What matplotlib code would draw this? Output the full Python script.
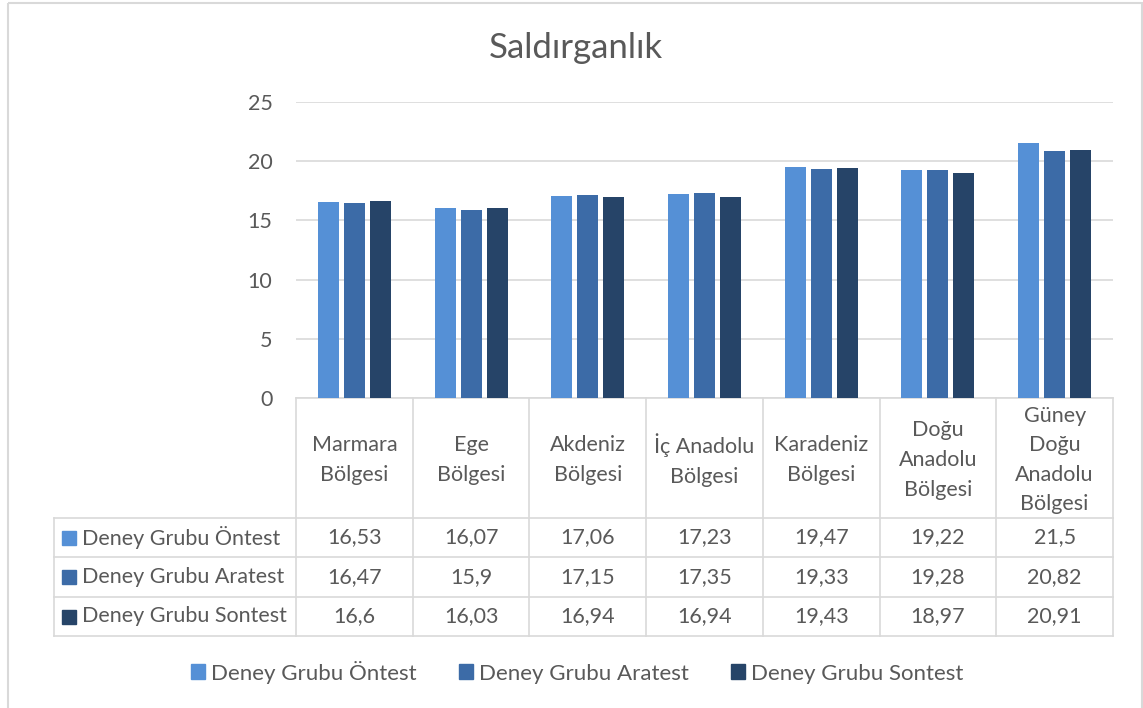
import matplotlib.pyplot as plt
import numpy as np

plt.rcParams['font.family'] = ['Lato', 'DejaVu Sans']

regions = ["Marmara\nBölgesi", "Ege\nBölgesi", "Akdeniz\nBölgesi", "İç Anadolu\nBölgesi",
           "Karadeniz\nBölgesi", "Doğu\nAnadolu\nBölgesi", "Güney\nDoğu\nAnadolu\nBölgesi"]
series_names = ["Deney Grubu Öntest", "Deney Grubu Aratest", "Deney Grubu Sontest"]
ontest = [16.53, 16.07, 17.06, 17.23, 19.47, 19.22, 21.5]
aratest = [16.47, 15.9, 17.15, 17.35, 19.33, 19.28, 20.82]
sontest = [16.6, 16.03, 16.94, 16.94, 19.43, 18.97, 20.91]
series = [ontest, aratest, sontest]
colors = ["#5590d6", "#3c6ba7", "#264468"]
title = "Saldırganlık"

TEXT = "#595959"
GRID = "#d9d9d9"


def fmt(v):
    return f"{v:g}".replace(".", ",")


W, H = 1143, 708
fig = plt.figure(figsize=(W / 100, H / 100), dpi=100)

# plot area in pixels
PL, PR, PT, PB = 296, 1113, 102, 398
ax = fig.add_axes([PL / W, 1 - PB / H, (PR - PL) / W, (PB - PT) / H])
x = np.arange(len(regions))
for i, (vals, c) in enumerate(zip(series, colors)):
    ax.bar(x + (i - 1) * 0.223, vals, 0.18, color=c, zorder=3)
ax.set_xlim(-0.5, len(regions) - 0.5)
ax.set_ylim(0, 25)
ax.set_yticks(range(0, 26, 5))
ax.set_xticks([])
ax.grid(axis='y', color=GRID, lw=1.2, zorder=0)
for s in ['top', 'right', 'left']:
    ax.spines[s].set_visible(False)
ax.spines['bottom'].set_color(GRID)
ax.spines['bottom'].set_linewidth(1.2)
ax.tick_params(axis='y', length=0, pad=17, labelsize=15.5, labelcolor=TEXT)

# overlay in pixel coordinates for the title, data table and legend
ov = fig.add_axes([0, 0, 1, 1], zorder=5)
ov.set_xlim(0, W)
ov.set_ylim(H, 0)
ov.axis('off')
ov.patch.set_alpha(0)

ov.add_patch(plt.Rectangle((8, 3), 1134, 710, fill=False, ec=GRID, lw=1.5, clip_on=False))
ov.text(W / 2 + 4, 48, title, ha='center', va='center', fontsize=25, color=TEXT)

col_edges = np.linspace(PL, PR, len(regions) + 1)
row_edges = [PB, 518, 557, 597, 636]
TL = 54
lk = dict(color=GRID, lw=1.2)
for xe in col_edges:
    ov.plot([xe, xe], [PB, row_edges[-1]], **lk)
ov.plot([TL, TL], [row_edges[1], row_edges[-1]], **lk)
for ye in row_edges[1:]:
    ov.plot([TL, PR], [ye, ye], **lk)

centers = (col_edges[:-1] + col_edges[1:]) / 2
for cx, lab in zip(centers, regions):
    ov.text(cx, (row_edges[0] + row_edges[1]) / 2 + 2, lab, ha='center', va='center',
            fontsize=15.5, color=TEXT, linespacing=1.6)

for r, (name, vals, c) in enumerate(zip(series_names, series, colors)):
    cy = (row_edges[r + 1] + row_edges[r + 2]) / 2
    ov.add_patch(plt.Rectangle((62, cy - 7), 14, 14, color=c))
    ov.text(82, cy, name, ha='left', va='center', fontsize=15.5, color=TEXT)
    for cx, v in zip(centers, vals):
        ov.text(cx, cy, fmt(v), ha='center', va='center', fontsize=15.5, color=TEXT)

handles = [plt.Rectangle((0, 0), 1, 1, color=c) for c in colors]
fig.legend(handles, series_names, loc='center', bbox_to_anchor=(577 / W, 1 - 672 / H),
           ncol=3, frameon=False, fontsize=16, handlelength=0.65, handleheight=0.65,
           handletextpad=0.25, columnspacing=1.9, labelcolor=TEXT)

fig.savefig("out.png", dpi=100)
